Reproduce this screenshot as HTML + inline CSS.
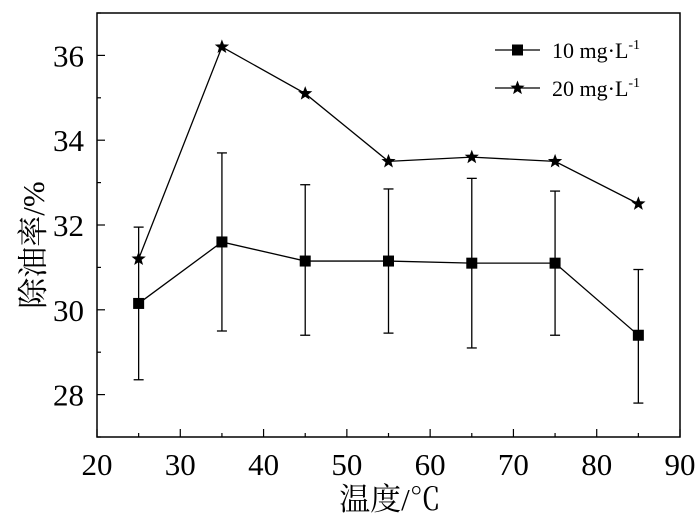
<!DOCTYPE html>
<html><head><meta charset="utf-8"><style>
body{margin:0;background:#fff}
svg text{font-family:"Liberation Serif","Noto Serif CJK SC",serif;fill:#000}
</style></head><body>
<svg id="c" width="700" height="523"></svg>
<script>
const xs=[25,35,45,55,65,75,85];
const s1=[30.15,31.6,31.15,31.15,31.1,31.1,29.4];
const s1hi=[31.95,33.7,32.95,32.85,33.1,32.8,30.95];
const s1lo=[28.35,29.5,29.4,29.45,29.1,29.4,27.8];
const s2=[31.2,36.2,35.1,33.5,33.6,33.5,32.5];
const xTicks=[20,30,40,50,60,70,80,90];
const yTicks=[28,30,32,34,36];
const L=97,R=680,T=13,B=437;
const X=v=>L+(v-20)/70*(R-L);
const Y=v=>B-(v-27)/10*(B-T);
const svg=document.getElementById('c');const NS='http://www.w3.org/2000/svg';
function el(t,a,p){const e=document.createElementNS(NS,t);for(const k in a)e.setAttribute(k,a[k]);(p||svg).appendChild(e);return e;}
let e=el('rect',{x:L,y:T,width:R-L,height:B-T,fill:'none',stroke:'#000','stroke-width':1.5});


for(let v=20;v<=90;v+=5){const big=v%10==0;el('line',{x1:X(v),x2:X(v),y1:B,y2:B-(big?8:4),stroke:'#000','stroke-width':1.2});}
for(let v=27;v<=37;v+=1){const big=v%2==0;el('line',{x1:L,x2:L+(big?8:4),y1:Y(v),y2:Y(v),stroke:'#000','stroke-width':1.2});}
xTicks.forEach(v=>{const t=el('text',{x:X(v),y:B+38,'text-anchor':'middle','font-size':31});t.textContent=v;

});
yTicks.forEach(v=>{const t=el('text',{x:L-13,y:Y(v)+11,'text-anchor':'end','font-size':31});t.textContent=v;

});
e=el('text',{x:390,y:510,'text-anchor':'middle','font-size':31});e.textContent='温度/℃';


e=el('text',{x:0,y:0,'text-anchor':'middle','font-size':31,transform:'translate(44,245) rotate(-90)'});e.textContent='除油率/%';


xs.forEach((x,i)=>{const g=el('g',{stroke:'#000','stroke-width':1.3});


el('line',{x1:X(x),x2:X(x),y1:Y(s1lo[i]),y2:Y(s1hi[i])},g);
el('line',{x1:X(x)-5,x2:X(x)+5,y1:Y(s1lo[i]),y2:Y(s1lo[i])},g);
el('line',{x1:X(x)-5,x2:X(x)+5,y1:Y(s1hi[i]),y2:Y(s1hi[i])},g);});
e=el('polyline',{points:xs.map((x,i)=>X(x)+','+Y(s1[i])).join(' '),fill:'none',stroke:'#000','stroke-width':1.3});


e=el('polyline',{points:xs.map((x,i)=>X(x)+','+Y(s2[i])).join(' '),fill:'none',stroke:'#000','stroke-width':1.3});


function star(cx,cy,r){let p=[];for(let k=0;k<10;k++){const a=-Math.PI/2+k*Math.PI/5,rr=k%2?r*0.42:r;p.push((cx+rr*Math.cos(a)).toFixed(1)+','+(cy+rr*Math.sin(a)).toFixed(1));}return el('polygon',{points:p.join(' '),fill:'#000'});}
xs.forEach((x,i)=>{let m=el('rect',{x:X(x)-5.5,y:Y(s1[i])-5.5,width:11,height:11,fill:'#000'});


m=star(X(x),Y(s2[i]),7.5);

});
el('line',{x1:495,x2:540,y1:50,y2:50,stroke:'#000','stroke-width':1.3});
el('rect',{x:512,y:44.5,width:11,height:11,fill:'#000'});
el('line',{x1:495,x2:540,y1:88,y2:88,stroke:'#000','stroke-width':1.3});
star(517.5,88,7.5);
e=el('text',{x:552,y:58,'font-size':22});e.innerHTML='10 mg·L<tspan dy="-9" font-size="14">-1</tspan>';


e=el('text',{x:552,y:96,'font-size':22});e.innerHTML='20 mg·L<tspan dy="-9" font-size="14">-1</tspan>';


</script>
</body></html>
